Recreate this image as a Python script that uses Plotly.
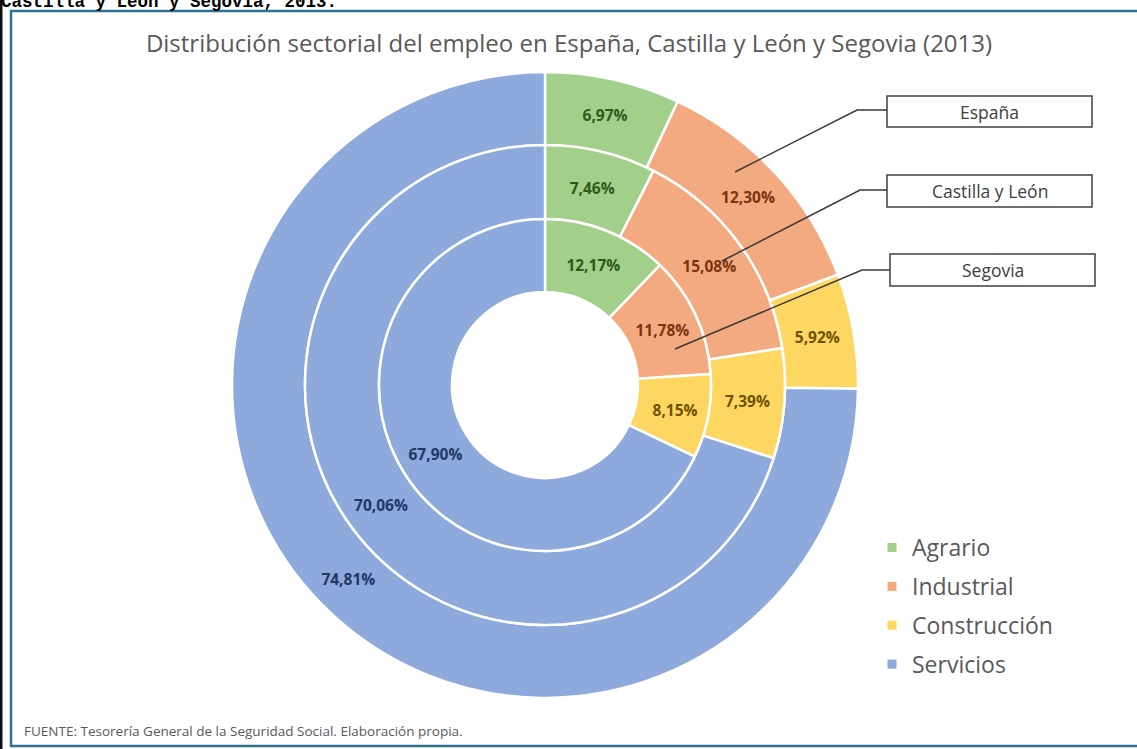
import plotly.graph_objects as go

W, H = 1137, 749

# ---------------- data ----------------
sectores = ["Agrario", "Industrial", "Construcción", "Servicios"]
espana = [6.97, 12.30, 5.92, 74.81]
castilla_leon = [7.46, 15.08, 7.39, 70.06]
segovia = [12.17, 11.78, 8.15, 67.90]
series_names = ["España", "Castilla y León", "Segovia"]

colores = ["#A2CF8A", "#F4AA80", "#FED762", "#8EA9DC"]
colores_texto = ["#2F5A1C", "#7A3410", "#6E5200", "#1F3864"]

titulo = "Distribución sectorial del empleo en España, Castilla y León y Segovia (2013)"
fuente = "FUENTE: Tesorería General de la Seguridad Social. Elaboración propia."
cabecera = "Castilla y León y Segovia, 2013."

FONT = "Open Sans"

# ---------------- geometry (pixels) ----------------
CX, CY = 545, 385
R_OUT, R_MID, R_IN, R_HOLE = 313, 240, 166, 93


def px(x):
    return x / W


def py(y):
    return 1 - y / H


def domain(r):
    return dict(x=[px(CX - r), px(CX + r)], y=[py(CY + r), py(CY - r)])


def fmt(v):
    return f"{v:.2f}".replace(".", ",") + "%"


fig = go.Figure()

rings = [
    (espana, R_OUT, R_MID, series_names[0]),
    (castilla_leon, R_MID, R_IN, series_names[1]),
    (segovia, R_IN, R_HOLE, series_names[2]),
]
for vals, r_outer, r_inner, name in rings:
    fig.add_trace(go.Pie(
        labels=sectores,
        values=vals,
        name=name,
        text=[fmt(v) for v in vals],
        textinfo="text",
        textposition="inside",
        insidetextorientation="horizontal",
        textfont=dict(family=FONT, size=15.5, color=colores_texto, weight="bold"),
        marker=dict(colors=colores, line=dict(color="white", width=2.5)),
        hole=r_inner / r_outer,
        domain=domain(r_outer),
        sort=False,
        direction="clockwise",
        rotation=0,
        showlegend=False,
    ))

# legend entries
for s, c in zip(sectores, colores):
    fig.add_trace(go.Scatter(
        x=[None], y=[None], mode="markers", name=s, legendgroup=s,
        marker=dict(symbol="square", size=9, color=c),
    ))

shapes = []
annotations = []

# frame
shapes.append(dict(type="rect", xref="paper", yref="paper",
                   x0=px(11), x1=px(1145), y0=py(746), y1=py(11),
                   line=dict(color="#2E7391", width=2.5), layer="below"))
shapes.append(dict(type="rect", xref="paper", yref="paper",
                   x0=px(0), x1=px(2.5), y0=py(749), y1=py(0),
                   fillcolor="#111111", line=dict(width=0)))

# series name boxes and leader lines
boxes = [
    (series_names[0], 887, 1092, 96, 127, [(735, 172), (857, 110), (887, 110)]),
    (series_names[1], 887, 1092, 175, 207, [(722, 261), (860, 190), (887, 190)]),
    (series_names[2], 890, 1095, 254, 286, [(675, 349), (862, 270), (890, 270)]),
]
for name, x0, x1, y0, y1, pts in boxes:
    path = "M " + " L ".join(f"{px(a):.5f},{py(b):.5f}" for a, b in pts)
    shapes.append(dict(type="path", xref="paper", yref="paper", path=path,
                       line=dict(color="#3A3A3A", width=1.5)))
    shapes.append(dict(type="rect", xref="paper", yref="paper",
                       x0=px(x0), x1=px(x1), y0=py(y1), y1=py(y0),
                       fillcolor="white", line=dict(color="#404040", width=1.5)))
    annotations.append(dict(text=name, xref="paper", yref="paper",
                            x=px((x0 + x1) / 2), y=py((y0 + y1) / 2),
                            xanchor="center", yanchor="middle", showarrow=False,
                            font=dict(family=FONT, size=17.5, color="#404040")))

# footer
annotations.append(dict(text=fuente, xref="paper", yref="paper",
                        x=px(22), y=py(731), xanchor="left", yanchor="middle",
                        showarrow=False,
                        font=dict(family=FONT, size=13.5, color="#595959")))
# cut header
annotations.append(dict(text=f"<b>{cabecera}</b>", xref="paper", yref="paper",
                        x=px(-1), y=py(14.5), xanchor="left", yanchor="bottom",
                        showarrow=False,
                        font=dict(family="Liberation Mono", size=17.5, color="#000000")))

fig.update_layout(
    width=W, height=H,
    margin=dict(l=0, r=0, t=0, b=0),
    paper_bgcolor="white", plot_bgcolor="white",
    title=dict(text=titulo, x=px(569), y=py(44), xanchor="center", yanchor="middle",
               font=dict(family=FONT, size=24, color="#595959")),
    xaxis=dict(visible=False), yaxis=dict(visible=False),
    legend=dict(x=px(872), y=py(526), xanchor="left", yanchor="top",
                font=dict(family=FONT, size=23, color="#595959"),
                tracegroupgap=6, bgcolor="rgba(0,0,0,0)"),
    shapes=shapes,
    annotations=annotations,
)

fig.write_html("out.html", config={"displayModeBar": False},
               post_script="document.body.style.margin='0px';")
